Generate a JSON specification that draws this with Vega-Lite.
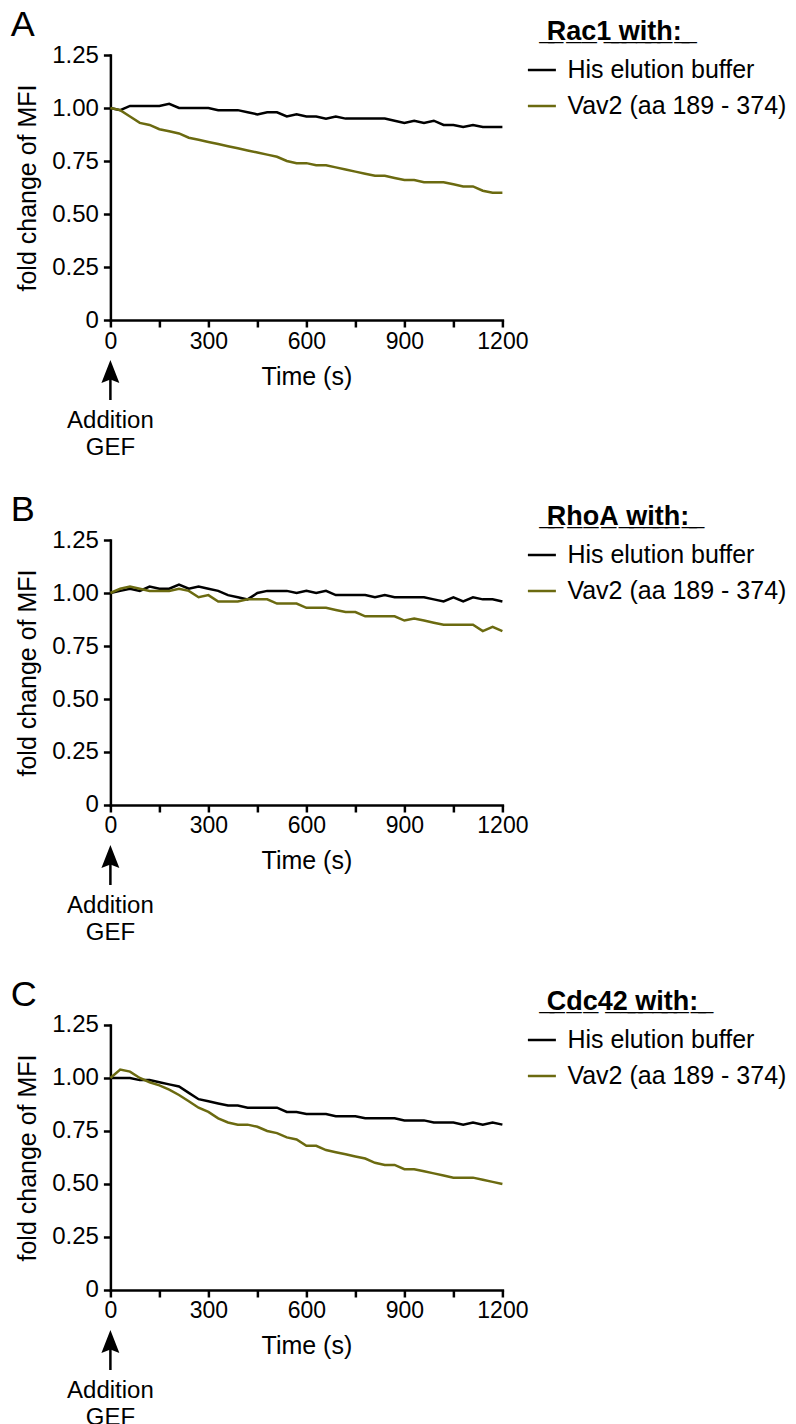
{
  "$schema": "https://vega.github.io/schema/vega-lite/v6.json",
  "background": "white",
  "padding": {"left": 10.4, "top": 7, "right": 5, "bottom": 5},
  "datasets": {
    "rac1": [
      {"time":0,"series":"His elution buffer","value":1.00},{"time":30,"series":"His elution buffer","value":0.99},{"time":60,"series":"His elution buffer","value":1.01},{"time":90,"series":"His elution buffer","value":1.01},{"time":120,"series":"His elution buffer","value":1.01},{"time":150,"series":"His elution buffer","value":1.01},{"time":180,"series":"His elution buffer","value":1.02},{"time":210,"series":"His elution buffer","value":1.00},{"time":240,"series":"His elution buffer","value":1.00},{"time":270,"series":"His elution buffer","value":1.00},{"time":300,"series":"His elution buffer","value":1.00},{"time":330,"series":"His elution buffer","value":0.99},{"time":360,"series":"His elution buffer","value":0.99},{"time":390,"series":"His elution buffer","value":0.99},{"time":420,"series":"His elution buffer","value":0.98},{"time":450,"series":"His elution buffer","value":0.97},{"time":480,"series":"His elution buffer","value":0.98},{"time":510,"series":"His elution buffer","value":0.98},{"time":540,"series":"His elution buffer","value":0.96},{"time":570,"series":"His elution buffer","value":0.97},{"time":600,"series":"His elution buffer","value":0.96},{"time":630,"series":"His elution buffer","value":0.96},{"time":660,"series":"His elution buffer","value":0.95},{"time":690,"series":"His elution buffer","value":0.96},{"time":720,"series":"His elution buffer","value":0.95},{"time":750,"series":"His elution buffer","value":0.95},{"time":780,"series":"His elution buffer","value":0.95},{"time":810,"series":"His elution buffer","value":0.95},{"time":840,"series":"His elution buffer","value":0.95},{"time":870,"series":"His elution buffer","value":0.94},{"time":900,"series":"His elution buffer","value":0.93},{"time":930,"series":"His elution buffer","value":0.94},{"time":960,"series":"His elution buffer","value":0.93},{"time":990,"series":"His elution buffer","value":0.94},{"time":1020,"series":"His elution buffer","value":0.92},{"time":1050,"series":"His elution buffer","value":0.92},{"time":1080,"series":"His elution buffer","value":0.91},{"time":1110,"series":"His elution buffer","value":0.92},{"time":1140,"series":"His elution buffer","value":0.91},{"time":1170,"series":"His elution buffer","value":0.91},{"time":1200,"series":"His elution buffer","value":0.91},
      {"time":0,"series":"Vav2 (aa 189 - 374)","value":1.00},{"time":30,"series":"Vav2 (aa 189 - 374)","value":0.99},{"time":60,"series":"Vav2 (aa 189 - 374)","value":0.96},{"time":90,"series":"Vav2 (aa 189 - 374)","value":0.93},{"time":120,"series":"Vav2 (aa 189 - 374)","value":0.92},{"time":150,"series":"Vav2 (aa 189 - 374)","value":0.90},{"time":180,"series":"Vav2 (aa 189 - 374)","value":0.89},{"time":210,"series":"Vav2 (aa 189 - 374)","value":0.88},{"time":240,"series":"Vav2 (aa 189 - 374)","value":0.86},{"time":270,"series":"Vav2 (aa 189 - 374)","value":0.85},{"time":300,"series":"Vav2 (aa 189 - 374)","value":0.84},{"time":330,"series":"Vav2 (aa 189 - 374)","value":0.83},{"time":360,"series":"Vav2 (aa 189 - 374)","value":0.82},{"time":390,"series":"Vav2 (aa 189 - 374)","value":0.81},{"time":420,"series":"Vav2 (aa 189 - 374)","value":0.80},{"time":450,"series":"Vav2 (aa 189 - 374)","value":0.79},{"time":480,"series":"Vav2 (aa 189 - 374)","value":0.78},{"time":510,"series":"Vav2 (aa 189 - 374)","value":0.77},{"time":540,"series":"Vav2 (aa 189 - 374)","value":0.75},{"time":570,"series":"Vav2 (aa 189 - 374)","value":0.74},{"time":600,"series":"Vav2 (aa 189 - 374)","value":0.74},{"time":630,"series":"Vav2 (aa 189 - 374)","value":0.73},{"time":660,"series":"Vav2 (aa 189 - 374)","value":0.73},{"time":690,"series":"Vav2 (aa 189 - 374)","value":0.72},{"time":720,"series":"Vav2 (aa 189 - 374)","value":0.71},{"time":750,"series":"Vav2 (aa 189 - 374)","value":0.70},{"time":780,"series":"Vav2 (aa 189 - 374)","value":0.69},{"time":810,"series":"Vav2 (aa 189 - 374)","value":0.68},{"time":840,"series":"Vav2 (aa 189 - 374)","value":0.68},{"time":870,"series":"Vav2 (aa 189 - 374)","value":0.67},{"time":900,"series":"Vav2 (aa 189 - 374)","value":0.66},{"time":930,"series":"Vav2 (aa 189 - 374)","value":0.66},{"time":960,"series":"Vav2 (aa 189 - 374)","value":0.65},{"time":990,"series":"Vav2 (aa 189 - 374)","value":0.65},{"time":1020,"series":"Vav2 (aa 189 - 374)","value":0.65},{"time":1050,"series":"Vav2 (aa 189 - 374)","value":0.64},{"time":1080,"series":"Vav2 (aa 189 - 374)","value":0.63},{"time":1110,"series":"Vav2 (aa 189 - 374)","value":0.63},{"time":1140,"series":"Vav2 (aa 189 - 374)","value":0.61},{"time":1170,"series":"Vav2 (aa 189 - 374)","value":0.60},{"time":1200,"series":"Vav2 (aa 189 - 374)","value":0.60}
    ],
    "rhoa": [
      {"time":0,"series":"His elution buffer","value":1.00},{"time":30,"series":"His elution buffer","value":1.01},{"time":60,"series":"His elution buffer","value":1.02},{"time":90,"series":"His elution buffer","value":1.01},{"time":120,"series":"His elution buffer","value":1.03},{"time":150,"series":"His elution buffer","value":1.02},{"time":180,"series":"His elution buffer","value":1.02},{"time":210,"series":"His elution buffer","value":1.04},{"time":240,"series":"His elution buffer","value":1.02},{"time":270,"series":"His elution buffer","value":1.03},{"time":300,"series":"His elution buffer","value":1.02},{"time":330,"series":"His elution buffer","value":1.01},{"time":360,"series":"His elution buffer","value":0.99},{"time":390,"series":"His elution buffer","value":0.98},{"time":420,"series":"His elution buffer","value":0.97},{"time":450,"series":"His elution buffer","value":1.00},{"time":480,"series":"His elution buffer","value":1.01},{"time":510,"series":"His elution buffer","value":1.01},{"time":540,"series":"His elution buffer","value":1.01},{"time":570,"series":"His elution buffer","value":1.00},{"time":600,"series":"His elution buffer","value":1.01},{"time":630,"series":"His elution buffer","value":1.00},{"time":660,"series":"His elution buffer","value":1.01},{"time":690,"series":"His elution buffer","value":0.99},{"time":720,"series":"His elution buffer","value":0.99},{"time":750,"series":"His elution buffer","value":0.99},{"time":780,"series":"His elution buffer","value":0.99},{"time":810,"series":"His elution buffer","value":0.98},{"time":840,"series":"His elution buffer","value":0.99},{"time":870,"series":"His elution buffer","value":0.98},{"time":900,"series":"His elution buffer","value":0.98},{"time":930,"series":"His elution buffer","value":0.98},{"time":960,"series":"His elution buffer","value":0.98},{"time":990,"series":"His elution buffer","value":0.97},{"time":1020,"series":"His elution buffer","value":0.96},{"time":1050,"series":"His elution buffer","value":0.98},{"time":1080,"series":"His elution buffer","value":0.96},{"time":1110,"series":"His elution buffer","value":0.98},{"time":1140,"series":"His elution buffer","value":0.97},{"time":1170,"series":"His elution buffer","value":0.97},{"time":1200,"series":"His elution buffer","value":0.96},
      {"time":0,"series":"Vav2 (aa 189 - 374)","value":1.00},{"time":30,"series":"Vav2 (aa 189 - 374)","value":1.02},{"time":60,"series":"Vav2 (aa 189 - 374)","value":1.03},{"time":90,"series":"Vav2 (aa 189 - 374)","value":1.02},{"time":120,"series":"Vav2 (aa 189 - 374)","value":1.01},{"time":150,"series":"Vav2 (aa 189 - 374)","value":1.01},{"time":180,"series":"Vav2 (aa 189 - 374)","value":1.01},{"time":210,"series":"Vav2 (aa 189 - 374)","value":1.02},{"time":240,"series":"Vav2 (aa 189 - 374)","value":1.01},{"time":270,"series":"Vav2 (aa 189 - 374)","value":0.98},{"time":300,"series":"Vav2 (aa 189 - 374)","value":0.99},{"time":330,"series":"Vav2 (aa 189 - 374)","value":0.96},{"time":360,"series":"Vav2 (aa 189 - 374)","value":0.96},{"time":390,"series":"Vav2 (aa 189 - 374)","value":0.96},{"time":420,"series":"Vav2 (aa 189 - 374)","value":0.97},{"time":450,"series":"Vav2 (aa 189 - 374)","value":0.97},{"time":480,"series":"Vav2 (aa 189 - 374)","value":0.97},{"time":510,"series":"Vav2 (aa 189 - 374)","value":0.95},{"time":540,"series":"Vav2 (aa 189 - 374)","value":0.95},{"time":570,"series":"Vav2 (aa 189 - 374)","value":0.95},{"time":600,"series":"Vav2 (aa 189 - 374)","value":0.93},{"time":630,"series":"Vav2 (aa 189 - 374)","value":0.93},{"time":660,"series":"Vav2 (aa 189 - 374)","value":0.93},{"time":690,"series":"Vav2 (aa 189 - 374)","value":0.92},{"time":720,"series":"Vav2 (aa 189 - 374)","value":0.91},{"time":750,"series":"Vav2 (aa 189 - 374)","value":0.91},{"time":780,"series":"Vav2 (aa 189 - 374)","value":0.89},{"time":810,"series":"Vav2 (aa 189 - 374)","value":0.89},{"time":840,"series":"Vav2 (aa 189 - 374)","value":0.89},{"time":870,"series":"Vav2 (aa 189 - 374)","value":0.89},{"time":900,"series":"Vav2 (aa 189 - 374)","value":0.87},{"time":930,"series":"Vav2 (aa 189 - 374)","value":0.88},{"time":960,"series":"Vav2 (aa 189 - 374)","value":0.87},{"time":990,"series":"Vav2 (aa 189 - 374)","value":0.86},{"time":1020,"series":"Vav2 (aa 189 - 374)","value":0.85},{"time":1050,"series":"Vav2 (aa 189 - 374)","value":0.85},{"time":1080,"series":"Vav2 (aa 189 - 374)","value":0.85},{"time":1110,"series":"Vav2 (aa 189 - 374)","value":0.85},{"time":1140,"series":"Vav2 (aa 189 - 374)","value":0.82},{"time":1170,"series":"Vav2 (aa 189 - 374)","value":0.84},{"time":1200,"series":"Vav2 (aa 189 - 374)","value":0.82}
    ],
    "cdc42": [
      {"time":0,"series":"His elution buffer","value":1.00},{"time":30,"series":"His elution buffer","value":1.00},{"time":60,"series":"His elution buffer","value":1.00},{"time":90,"series":"His elution buffer","value":0.99},{"time":120,"series":"His elution buffer","value":0.99},{"time":150,"series":"His elution buffer","value":0.98},{"time":180,"series":"His elution buffer","value":0.97},{"time":210,"series":"His elution buffer","value":0.96},{"time":240,"series":"His elution buffer","value":0.93},{"time":270,"series":"His elution buffer","value":0.90},{"time":300,"series":"His elution buffer","value":0.89},{"time":330,"series":"His elution buffer","value":0.88},{"time":360,"series":"His elution buffer","value":0.87},{"time":390,"series":"His elution buffer","value":0.87},{"time":420,"series":"His elution buffer","value":0.86},{"time":450,"series":"His elution buffer","value":0.86},{"time":480,"series":"His elution buffer","value":0.86},{"time":510,"series":"His elution buffer","value":0.86},{"time":540,"series":"His elution buffer","value":0.84},{"time":570,"series":"His elution buffer","value":0.84},{"time":600,"series":"His elution buffer","value":0.83},{"time":630,"series":"His elution buffer","value":0.83},{"time":660,"series":"His elution buffer","value":0.83},{"time":690,"series":"His elution buffer","value":0.82},{"time":720,"series":"His elution buffer","value":0.82},{"time":750,"series":"His elution buffer","value":0.82},{"time":780,"series":"His elution buffer","value":0.81},{"time":810,"series":"His elution buffer","value":0.81},{"time":840,"series":"His elution buffer","value":0.81},{"time":870,"series":"His elution buffer","value":0.81},{"time":900,"series":"His elution buffer","value":0.80},{"time":930,"series":"His elution buffer","value":0.80},{"time":960,"series":"His elution buffer","value":0.80},{"time":990,"series":"His elution buffer","value":0.79},{"time":1020,"series":"His elution buffer","value":0.79},{"time":1050,"series":"His elution buffer","value":0.79},{"time":1080,"series":"His elution buffer","value":0.78},{"time":1110,"series":"His elution buffer","value":0.79},{"time":1140,"series":"His elution buffer","value":0.78},{"time":1170,"series":"His elution buffer","value":0.79},{"time":1200,"series":"His elution buffer","value":0.78},
      {"time":0,"series":"Vav2 (aa 189 - 374)","value":1.00},{"time":30,"series":"Vav2 (aa 189 - 374)","value":1.04},{"time":60,"series":"Vav2 (aa 189 - 374)","value":1.03},{"time":90,"series":"Vav2 (aa 189 - 374)","value":1.00},{"time":120,"series":"Vav2 (aa 189 - 374)","value":0.98},{"time":150,"series":"Vav2 (aa 189 - 374)","value":0.965},{"time":180,"series":"Vav2 (aa 189 - 374)","value":0.945},{"time":210,"series":"Vav2 (aa 189 - 374)","value":0.92},{"time":240,"series":"Vav2 (aa 189 - 374)","value":0.89},{"time":270,"series":"Vav2 (aa 189 - 374)","value":0.86},{"time":300,"series":"Vav2 (aa 189 - 374)","value":0.84},{"time":330,"series":"Vav2 (aa 189 - 374)","value":0.81},{"time":360,"series":"Vav2 (aa 189 - 374)","value":0.79},{"time":390,"series":"Vav2 (aa 189 - 374)","value":0.78},{"time":420,"series":"Vav2 (aa 189 - 374)","value":0.78},{"time":450,"series":"Vav2 (aa 189 - 374)","value":0.77},{"time":480,"series":"Vav2 (aa 189 - 374)","value":0.75},{"time":510,"series":"Vav2 (aa 189 - 374)","value":0.74},{"time":540,"series":"Vav2 (aa 189 - 374)","value":0.72},{"time":570,"series":"Vav2 (aa 189 - 374)","value":0.71},{"time":600,"series":"Vav2 (aa 189 - 374)","value":0.68},{"time":630,"series":"Vav2 (aa 189 - 374)","value":0.68},{"time":660,"series":"Vav2 (aa 189 - 374)","value":0.66},{"time":690,"series":"Vav2 (aa 189 - 374)","value":0.65},{"time":720,"series":"Vav2 (aa 189 - 374)","value":0.64},{"time":750,"series":"Vav2 (aa 189 - 374)","value":0.63},{"time":780,"series":"Vav2 (aa 189 - 374)","value":0.62},{"time":810,"series":"Vav2 (aa 189 - 374)","value":0.60},{"time":840,"series":"Vav2 (aa 189 - 374)","value":0.59},{"time":870,"series":"Vav2 (aa 189 - 374)","value":0.59},{"time":900,"series":"Vav2 (aa 189 - 374)","value":0.57},{"time":930,"series":"Vav2 (aa 189 - 374)","value":0.57},{"time":960,"series":"Vav2 (aa 189 - 374)","value":0.56},{"time":990,"series":"Vav2 (aa 189 - 374)","value":0.55},{"time":1020,"series":"Vav2 (aa 189 - 374)","value":0.54},{"time":1050,"series":"Vav2 (aa 189 - 374)","value":0.53},{"time":1080,"series":"Vav2 (aa 189 - 374)","value":0.53},{"time":1110,"series":"Vav2 (aa 189 - 374)","value":0.53},{"time":1140,"series":"Vav2 (aa 189 - 374)","value":0.52},{"time":1170,"series":"Vav2 (aa 189 - 374)","value":0.51},{"time":1200,"series":"Vav2 (aa 189 - 374)","value":0.50}
    ],
    "gef": [{"time":0,"note":"Addition\nGEF"}]
  },
  "spacing": 32,
  "resolve": {"scale": {"color": "independent"}, "legend": {"color": "independent"}},
  "vconcat": [
    {
      "title": {"text": "A"},
      "width": 392, "height": 265,
      "layer": [
        {
          "data": {"name": "rac1"},
          "mark": {"type": "line", "strokeWidth": 2.5},
          "encoding": {
            "x": {"field": "time", "type": "quantitative", "title": "Time (s)", "scale": {"domain": [0, 1200], "nice": false}, "axis": {"values": [0,150,300,450,600,750,900,1050,1200], "labelExpr": "datum.value % 300 == 0 ? format(datum.value, 'd') : ''"}},
            "y": {"field": "value", "type": "quantitative", "title": "fold change of MFI", "scale": {"domain": [0, 1.25], "nice": false}, "axis": {"values": [0,0.25,0.5,0.75,1,1.25], "labelExpr": "datum.value == 0 ? '0' : format(datum.value, '.2f')"}},
            "color": {"field": "series", "type": "nominal", "scale": {"domain": ["His elution buffer", "Vav2 (aa 189 - 374)"], "range": ["#000000", "#6b6a10"]}, "legend": {"title": "\u200b\u00a0\u2009\u00a0\u0332R\u0332a\u0332c\u03321\u0332\u00a0\u0332w\u0332i\u0332t\u0332h\u0332:\u0332\u00a0\u0332", "orient": "none", "legendX": 416, "legendY": -36}}
          }
        },
        {
          "data": {"name": "gef"},
          "layer": [
            {"mark": {"type": "rule", "strokeWidth": 2.5, "color": "black", "yOffset": 55, "y2Offset": 80}, "encoding": {"x": {"field": "time", "type": "quantitative", "title": "Time (s)"}, "y": {"datum": 0}, "y2": {"datum": 0}}},
            {"mark": {"type": "point", "shape": "M0,-1L0.78,1L0,0.7L-0.78,1Z", "filled": true, "color": "black", "opacity": 1, "size": 529, "yOffset": 51.5}, "encoding": {"x": {"field": "time", "type": "quantitative", "title": "Time (s)"}, "y": {"datum": 0}}},
            {"mark": {"type": "text", "fontSize": 24, "lineBreak": "\n", "lineHeight": 27, "baseline": "alphabetic", "align": "center", "dy": 108}, "encoding": {"x": {"field": "time", "type": "quantitative", "title": "Time (s)"}, "y": {"datum": 0}, "text": {"field": "note"}}}
          ]
        }
      ]
    },
    {
      "title": {"text": "B"},
      "width": 392, "height": 265,
      "layer": [
        {
          "data": {"name": "rhoa"},
          "mark": {"type": "line", "strokeWidth": 2.5},
          "encoding": {
            "x": {"field": "time", "type": "quantitative", "title": "Time (s)", "scale": {"domain": [0, 1200], "nice": false}, "axis": {"values": [0,150,300,450,600,750,900,1050,1200], "labelExpr": "datum.value % 300 == 0 ? format(datum.value, 'd') : ''"}},
            "y": {"field": "value", "type": "quantitative", "title": "fold change of MFI", "scale": {"domain": [0, 1.25], "nice": false}, "axis": {"values": [0,0.25,0.5,0.75,1,1.25], "labelExpr": "datum.value == 0 ? '0' : format(datum.value, '.2f')"}},
            "color": {"field": "series", "type": "nominal", "scale": {"domain": ["His elution buffer", "Vav2 (aa 189 - 374)"], "range": ["#000000", "#6b6a10"]}, "legend": {"title": "\u200b\u00a0\u2009\u00a0\u0332R\u0332h\u0332o\u0332A\u0332\u00a0\u0332w\u0332i\u0332t\u0332h\u0332:\u0332\u00a0\u0332", "orient": "none", "legendX": 416, "legendY": -36}}
          }
        },
        {
          "data": {"name": "gef"},
          "layer": [
            {"mark": {"type": "rule", "strokeWidth": 2.5, "color": "black", "yOffset": 55, "y2Offset": 80}, "encoding": {"x": {"field": "time", "type": "quantitative", "title": "Time (s)"}, "y": {"datum": 0}, "y2": {"datum": 0}}},
            {"mark": {"type": "point", "shape": "M0,-1L0.78,1L0,0.7L-0.78,1Z", "filled": true, "color": "black", "opacity": 1, "size": 529, "yOffset": 51.5}, "encoding": {"x": {"field": "time", "type": "quantitative", "title": "Time (s)"}, "y": {"datum": 0}}},
            {"mark": {"type": "text", "fontSize": 24, "lineBreak": "\n", "lineHeight": 27, "baseline": "alphabetic", "align": "center", "dy": 108}, "encoding": {"x": {"field": "time", "type": "quantitative", "title": "Time (s)"}, "y": {"datum": 0}, "text": {"field": "note"}}}
          ]
        }
      ]
    },
    {
      "title": {"text": "C"},
      "width": 392, "height": 265,
      "layer": [
        {
          "data": {"name": "cdc42"},
          "mark": {"type": "line", "strokeWidth": 2.5},
          "encoding": {
            "x": {"field": "time", "type": "quantitative", "title": "Time (s)", "scale": {"domain": [0, 1200], "nice": false}, "axis": {"values": [0,150,300,450,600,750,900,1050,1200], "labelExpr": "datum.value % 300 == 0 ? format(datum.value, 'd') : ''"}},
            "y": {"field": "value", "type": "quantitative", "title": "fold change of MFI", "scale": {"domain": [0, 1.25], "nice": false}, "axis": {"values": [0,0.25,0.5,0.75,1,1.25], "labelExpr": "datum.value == 0 ? '0' : format(datum.value, '.2f')"}},
            "color": {"field": "series", "type": "nominal", "scale": {"domain": ["His elution buffer", "Vav2 (aa 189 - 374)"], "range": ["#000000", "#6b6a10"]}, "legend": {"title": "\u200b\u00a0\u2009\u00a0\u0332C\u0332d\u0332c\u03324\u03322\u0332\u00a0\u0332w\u0332i\u0332t\u0332h\u0332:\u0332\u00a0\u0332", "orient": "none", "legendX": 416, "legendY": -36}}
          }
        },
        {
          "data": {"name": "gef"},
          "layer": [
            {"mark": {"type": "rule", "strokeWidth": 2.5, "color": "black", "yOffset": 55, "y2Offset": 80}, "encoding": {"x": {"field": "time", "type": "quantitative", "title": "Time (s)"}, "y": {"datum": 0}, "y2": {"datum": 0}}},
            {"mark": {"type": "point", "shape": "M0,-1L0.78,1L0,0.7L-0.78,1Z", "filled": true, "color": "black", "opacity": 1, "size": 529, "yOffset": 51.5}, "encoding": {"x": {"field": "time", "type": "quantitative", "title": "Time (s)"}, "y": {"datum": 0}}},
            {"mark": {"type": "text", "fontSize": 24, "lineBreak": "\n", "lineHeight": 27, "baseline": "alphabetic", "align": "center", "dy": 108}, "encoding": {"x": {"field": "time", "type": "quantitative", "title": "Time (s)"}, "y": {"datum": 0}, "text": {"field": "note"}}}
          ]
        }
      ]
    }
  ],
  "config": {
    "font": "Liberation Sans",
    "view": {"stroke": null},
    "axis": {
      "grid": false,
      "domainColor": "black", "domainWidth": 2.5, "domainCap": "square",
      "tickColor": "black", "tickWidth": 2.5, "tickSize": 7,
      "labelFont": "Liberation Sans", "labelFontSize": 23, "labelColor": "black", "labelPadding": 3,
      "labelFlush": false, "labelOverlap": false,
      "titleFont": "Liberation Sans", "titleFontSize": 25, "titleFontWeight": "normal", "titleColor": "black"
    },
    "axisX": {"titlePadding": 11},
    "axisY": {"titlePadding": 11, "labelFontSize": 24, "labelPadding": 5},
    "legend": {
      "labelFont": "Liberation Sans", "labelFontSize": 25, "labelColor": "black", "labelLimit": 400, "labelOffset": 10,
      "titleFont": "Liberation Sans", "titleFontSize": 27, "titleFontWeight": "bold", "titleColor": "black", "titleLimit": 400, "titlePadding": 8.5,
      "symbolType": "stroke", "symbolSize": 784, "symbolStrokeWidth": 2.5, "rowPadding": 7, "padding": 0
    },
    "title": {"font": "Liberation Sans", "fontSize": 36, "fontWeight": "normal", "color": "black", "anchor": "start", "frame": "bounds", "dy": 29, "dx": -5},
    "text": {"font": "Liberation Sans", "color": "black"}
  }
}
